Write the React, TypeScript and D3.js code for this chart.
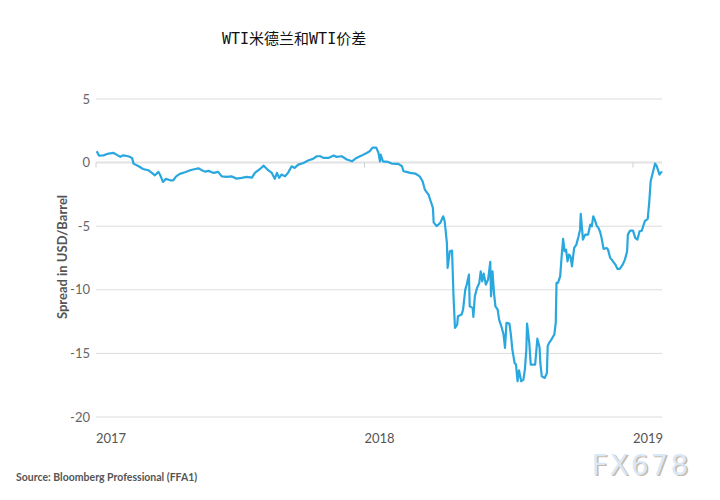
import React from "react";
import * as d3 from "d3";

const title = "WTI米德兰和WTI价差";
const yAxisLabel = "Spread in USD/Barrel";
const sourceText = "Source: Bloomberg Professional (FFA1)";
const watermark = "FX678";
const yTicks = [5, 0, -5, -10, -15, -20];
const xTickLabels = ["2017", "2018", "2019"];

const dates = [
  "2017-01-02","2017-01-05","2017-01-11","2017-01-18","2017-01-25","2017-01-29","2017-02-03","2017-02-07","2017-02-14","2017-02-19",
  "2017-02-21","2017-02-28","2017-03-06","2017-03-13","2017-03-18","2017-03-22","2017-03-27","2017-03-30","2017-04-02","2017-04-06",
  "2017-04-12","2017-04-16","2017-04-20","2017-04-25","2017-05-02","2017-05-09","2017-05-16","2017-05-20","2017-05-25","2017-05-29",
  "2017-06-03","2017-06-10","2017-06-16","2017-06-21","2017-06-28","2017-07-04","2017-07-11","2017-07-18","2017-07-25","2017-08-01",
  "2017-08-05","2017-08-12","2017-08-17","2017-08-23","2017-08-28","2017-09-01","2017-09-04","2017-09-07","2017-09-10","2017-09-15",
  "2017-09-19","2017-09-24","2017-09-28","2017-10-03","2017-10-10","2017-10-17","2017-10-23","2017-10-28","2017-11-02","2017-11-06",
  "2017-11-13","2017-11-20","2017-11-24","2017-12-01","2017-12-08","2017-12-15","2017-12-21","2017-12-28","2018-01-04","2018-01-08",
  "2018-01-12","2018-01-17","2018-01-20","2018-01-22","2018-01-23","2018-01-26","2018-02-02","2018-02-07","2018-02-16","2018-02-21",
  "2018-02-23","2018-02-27","2018-03-04","2018-03-11","2018-03-17","2018-03-21","2018-03-24","2018-03-29","2018-04-01","2018-04-04",
  "2018-04-05","2018-04-09","2018-04-14","2018-04-18","2018-04-20","2018-04-23","2018-04-24","2018-04-27","2018-04-30","2018-05-02",
  "2018-05-04","2018-05-07","2018-05-08","2018-05-13","2018-05-15","2018-05-18","2018-05-20","2018-05-23","2018-05-24","2018-05-28",
  "2018-05-29","2018-05-31","2018-06-03","2018-06-06","2018-06-08","2018-06-10","2018-06-12","2018-06-15","2018-06-18","2018-06-21",
  "2018-06-22","2018-06-24","2018-06-26","2018-06-28","2018-07-01","2018-07-03","2018-07-06","2018-07-09","2018-07-11","2018-07-13",
  "2018-07-17","2018-07-19","2018-07-21","2018-07-24","2018-07-26","2018-07-28","2018-07-30","2018-08-02","2018-08-05","2018-08-07",
  "2018-08-09","2018-08-10","2018-08-13","2018-08-15","2018-08-16","2018-08-21","2018-08-24","2018-08-27","2018-08-28","2018-08-30",
  "2018-09-03","2018-09-06","2018-09-07","2018-09-09","2018-09-12","2018-09-16","2018-09-18","2018-09-19","2018-09-21","2018-09-24",
  "2018-09-26","2018-09-28","2018-09-30","2018-10-02","2018-10-04","2018-10-06","2018-10-08","2018-10-10","2018-10-13","2018-10-16",
  "2018-10-19","2018-10-21","2018-10-22","2018-10-25","2018-10-28","2018-11-01","2018-11-04","2018-11-06","2018-11-08","2018-11-10",
  "2018-11-13","2018-11-15","2018-11-17","2018-11-19","2018-11-22","2018-11-26","2018-11-28","2018-12-01","2018-12-03","2018-12-08",
  "2018-12-11","2018-12-14","2018-12-18","2018-12-21","2018-12-24","2018-12-25","2018-12-28","2019-01-01","2019-01-04","2019-01-07",
  "2019-01-10","2019-01-13","2019-01-17","2019-01-21","2019-01-23","2019-01-25","2019-01-29","2019-01-31","2019-02-02","2019-02-06",
  "2019-02-08","2019-02-10"
];

const spread = [
  0.89,0.55,0.57,0.71,0.76,0.63,0.45,0.57,0.50,0.37,
  -0.08,-0.29,-0.50,-0.60,-0.81,-1.00,-0.73,-1.08,-1.52,-1.28,
  -1.39,-1.39,-1.08,-0.89,-0.76,-0.60,-0.50,-0.45,-0.60,-0.71,
  -0.65,-0.81,-0.73,-1.08,-1.12,-1.08,-1.26,-1.20,-1.12,-1.18,
  -0.81,-0.50,-0.24,-0.60,-0.81,-1.28,-0.81,-1.20,-0.94,-1.08,
  -0.81,-0.29,-0.42,-0.16,-0.03,0.18,0.29,0.50,0.50,0.37,
  0.37,0.55,0.45,0.50,0.24,0.10,0.37,0.55,0.76,0.89,
  1.18,1.18,0.76,0.10,0.63,0.10,0.05,-0.08,-0.10,-0.29,
  -0.68,-0.73,-0.81,-0.86,-1.08,-1.47,-2.12,-2.52,-3.04,-3.56,
  -4.70,-5.00,-4.74,-4.22,-4.61,-6.31,-8.28,-6.97,-6.92,-10.51,
  -13.00,-12.74,-12.08,-11.95,-11.56,-9.98,-9.59,-8.80,-11.30,-11.42,
  -12.13,-10.51,-9.85,-9.46,-8.55,-9.33,-8.73,-9.59,-9.20,-7.81,
  -10.51,-8.55,-10.24,-11.30,-11.56,-12.34,-12.87,-13.52,-14.57,-12.60,
  -12.66,-13.52,-14.70,-15.75,-15.88,-17.19,-16.33,-17.19,-17.06,-16.27,
  -14.70,-12.66,-14.17,-15.88,-15.88,-15.88,-13.84,-14.54,-15.75,-16.80,
  -16.93,-16.53,-14.44,-14.17,-13.92,-13.52,-12.60,-9.46,-9.46,-8.94,
  -7.37,-6.00,-6.97,-6.84,-7.76,-7.23,-7.37,-8.15,-6.71,-6.45,
  -5.79,-5.27,-4.03,-6.05,-5.66,-5.66,-4.87,-5.01,-4.22,-4.48,
  -5.01,-5.13,-5.40,-5.84,-6.78,-6.71,-6.84,-7.49,-7.63,-8.02,
  -8.36,-8.36,-8.02,-7.63,-6.97,-5.66,-5.35,-5.35,-5.92,-6.05,
  -5.40,-5.35,-4.61,-4.43,-3.17,-1.47,-0.55,-0.08,-0.24,-0.94,
  -0.76,-0.76
];

const parse = d3.timeParse("%Y-%m-%d");

export default function App() {
  const width = 720;
  const height = 500;
  const x = d3
    .scaleTime()
    .domain([parse("2017-01-01")!, parse("2019-01-01")!])
    .range([96, 633]);
  const y = d3.scaleLinear().domain([-20, 5]).range([417, 99]);

  const data = dates.map((d, i) => ({ date: parse(d)!, v: spread[i] }));
  const line = d3
    .line<{ date: Date; v: number }>()
    .x((d) => x(d.date))
    .y((d) => y(d.v));

  const yearTicks = xTickLabels.map((t) => parse(`${t}-01-01`)!);
  const gridX0 = 96;
  const gridX1 = 662;
  const font = "Lato, 'Open Sans', sans-serif";

  return (
    <svg
      width={width}
      height={height}
      style={{ position: "absolute", left: 0, top: 0, background: "#fff" }}
    >
      <rect x={0} y={0} width={width} height={height} fill="#fff" />
      <text
        x={222}
        y={44}
        fontFamily="'DejaVu Sans Mono', 'Noto Sans CJK SC', monospace"
        fontSize={15}
        fill="#111"
      >
        {title}
      </text>
      {yTicks.map((t) => (
        <g key={t}>
          <line
            x1={gridX0}
            x2={gridX1}
            y1={y(t)}
            y2={y(t)}
            stroke={t === 0 ? "#e2e2e2" : "#dcdcdc"}
            strokeWidth={t === 0 ? 2 : 1}
          />
          <text
            x={90}
            y={y(t) + 4.5}
            textAnchor="end"
            fontFamily={font}
            fontSize={13}
            fill="#666"
          >
            {t}
          </text>
        </g>
      ))}
      {yearTicks.map((d, i) => (
        <g key={i}>
          <line
            x1={x(d)}
            x2={x(d)}
            y1={y(0)}
            y2={y(0) + 5}
            stroke="#d0d0d0"
            strokeWidth={1}
          />
          <text
            x={x(d)}
            y={443}
            fontFamily={font}
            fontSize={13}
            fill="#555"
          >
            {xTickLabels[i]}
          </text>
        </g>
      ))}
      <text
        transform={`translate(67, 257) rotate(-90)`}
        textAnchor="middle"
        fontFamily={font}
        fontSize={13}
        fontWeight={700}
        fill="#555"
      >
        {yAxisLabel}
      </text>
      <path
        d={line(data) ?? ""}
        fill="none"
        stroke="#2aa7df"
        strokeWidth={2.2}
        strokeLinejoin="round"
      />
      <text
        x={16}
        y={481}
        fontFamily={font}
        fontSize={10.5}
        fontWeight={700}
        fill="#555"
      >
        {sourceText}
      </text>
      <text
        x={593}
        y={476}
        fontFamily="'DejaVu Sans', sans-serif"
        fontSize={28}
        letterSpacing={2}
        fill="#c9b8a6"
      >
        {watermark}
      </text>
      <text
        x={591.5}
        y={474.5}
        fontFamily="'DejaVu Sans', sans-serif"
        fontSize={28}
        letterSpacing={2}
        fill="#d9e8f7"
      >
        {watermark}
      </text>
    </svg>
  );
}
